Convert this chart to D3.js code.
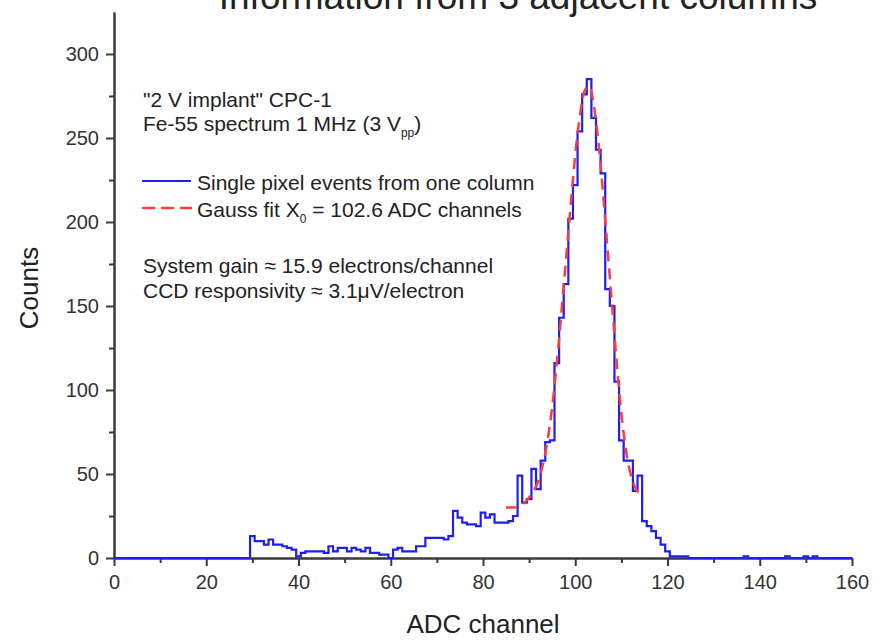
<!DOCTYPE html>
<html>
<head>
<meta charset="utf-8">
<script src="https://cdn.jsdelivr.net/npm/d3@7"></script>
<style>
body { margin: 0; background: #fff; }
svg { display: block; font-family: "Liberation Sans", Arial, sans-serif; }
</style>
</head>
<body>
<div id="chart"></div>
<script>
// histogram counts, one per ADC channel, starting at channel 0
const counts = [
    0,0,0,0,0,0,0,0,0,0, 0,0,0,0,0,0,0,0,0,0, 0,0,0,0,0,0,0,0,0,0,
    13,10,10,8,11,8,8,7,6,5,
    1,3,4,4,4,4,3,7,4,6,
    6,4,6,5,4,6,3,3,2,2,
    0,5,6,4,4,4,7,7,12,12,
    12,12,11,13,28,24,21,20,20,19,
    27,24,26,21,21,21,22,25,49,33,
    35,53,41,58,69,70,116,143,163,202,
    222,254,276,285,262,243,229,160,150,105,
    70,58,58,40,49,22,19,16,12,8,
    4,1,1,1,1,0,0,0,0,0,
    0,0,0,0,0,0,0,1,0,0,
    0,0,0,0,0,0,1,0,0,0,
    1,0,1,0,0,0,0,0,0,0,0
];
// gauss fit
const fitChannels = [85,86,87,88,89,90,91,92,93,94,95,96,97,98,99,100,101,102,103,104,105,106,107,108,109,110,111,112,113,114];
const fitCounts = [30,30,30,31,33,36,40,46,56,70,90,116,146,178,210,240,263,278,281,270,248,218,184,150,116,86,64,50,42,38];

const xTicks = [0, 20, 40, 60, 80, 100, 120, 140, 160];
const xMinor = [10, 30, 50, 70, 90, 110, 130, 150];
const yTicks = [0, 50, 100, 150, 200, 250, 300];
const yMinor = [25, 75, 125, 175, 225, 275];

const width = 878, height = 640;
const blue = '#1e1ef5', red = '#ff3c3c', ink = '#222';

const svg = d3.select('#chart').append('svg')
    .attr('width', width)
    .attr('height', height);

const x = d3.scaleLinear().domain([0, 160]).range([114, 852]);
const y = d3.scaleLinear().domain([0, 325]).range([558, 12]);

// title, cut off at the top like in the original figure
svg.append('text')
    .attr('x', 518).attr('y', 9)
    .attr('text-anchor', 'middle')
    .attr('font-size', 37)
    .attr('fill', ink)
    .text('Information from 3 adjacent columns');

function styleAxis(g) {
    g.select('.domain').attr('stroke', '#3a3a3a').attr('stroke-width', 2);
    g.selectAll('.tick line').attr('stroke', '#3a3a3a').attr('stroke-width', 2);
    g.selectAll('.tick text').attr('fill', '#333').attr('font-size', 20)
        .attr('font-family', '"Liberation Sans", Arial, sans-serif');
}

// minor ticks first, then the labelled axes on top
svg.append('g')
    .attr('transform', 'translate(0,' + y(0) + ')')
    .call(d3.axisBottom(x).tickValues(xMinor).tickSize(5).tickSizeOuter(0).tickFormat(''))
    .call(styleAxis);
svg.append('g')
    .attr('transform', 'translate(' + x(0) + ',0)')
    .call(d3.axisLeft(y).tickValues(yMinor).tickSize(5).tickSizeOuter(0).tickFormat(''))
    .call(styleAxis);

svg.append('g')
    .attr('transform', 'translate(0,' + y(0) + ')')
    .call(d3.axisBottom(x).tickValues(xTicks).tickSize(8).tickSizeOuter(0).tickPadding(9))
    .call(styleAxis);
svg.append('g')
    .attr('transform', 'translate(' + x(0) + ',0)')
    .call(d3.axisLeft(y).tickValues(yTicks).tickSize(8).tickSizeOuter(0).tickPadding(7))
    .call(styleAxis);

// axis titles
svg.append('text')
    .attr('x', 483).attr('y', 633)
    .attr('text-anchor', 'middle')
    .attr('font-size', 26)
    .attr('fill', ink)
    .text('ADC channel');
svg.append('text')
    .attr('transform', 'translate(38,' + 288 + ') rotate(-90)')
    .attr('text-anchor', 'middle')
    .attr('font-size', 26)
    .attr('fill', ink)
    .text('Counts');

// histogram as a centred step line
const stepLine = d3.line()
    .x((d, i) => x(i))
    .y(d => y(d))
    .curve(d3.curveStep);
svg.append('path')
    .datum(counts)
    .attr('d', stepLine)
    .attr('fill', 'none')
    .attr('stroke', blue)
    .attr('stroke-width', 2.2);

// gauss fit
const fitLine = d3.line()
    .x(d => x(d[0]))
    .y(d => y(d[1]))
    .curve(d3.curveMonotoneX);
svg.append('path')
    .datum(fitChannels.map((c, i) => [c, fitCounts[i]]))
    .attr('d', fitLine)
    .attr('fill', 'none')
    .attr('stroke', red)
    .attr('stroke-width', 2.5)
    .attr('stroke-dasharray', '11,7');

// annotation block
const notes = svg.append('g').attr('font-size', 21).attr('fill', ink);
notes.append('text').attr('x', 143).attr('y', 107).text('"2 V implant" CPC-1');
const l2 = notes.append('text').attr('x', 143).attr('y', 131);
l2.append('tspan').text('Fe-55 spectrum 1 MHz (3 V');
l2.append('tspan').attr('font-size', 12).attr('dy', 6).text('pp');
l2.append('tspan').attr('dy', -6).text(')');

// legend
notes.append('line')
    .attr('x1', 142).attr('x2', 191).attr('y1', 181).attr('y2', 181)
    .attr('stroke', blue).attr('stroke-width', 2);
notes.append('text').attr('x', 197).attr('y', 190).text('Single pixel events from one column');
notes.append('line')
    .attr('x1', 142).attr('x2', 192).attr('y1', 208).attr('y2', 208)
    .attr('stroke', red).attr('stroke-width', 2.5)
    .attr('stroke-dasharray', '13,6');
const l4 = notes.append('text').attr('x', 197).attr('y', 217);
l4.append('tspan').text('Gauss fit X');
l4.append('tspan').attr('font-size', 12).attr('dy', 6).text('0');
l4.append('tspan').attr('dy', -6).text(' = 102.6 ADC channels');

notes.append('text').attr('x', 143).attr('y', 273).text('System gain \u2248 15.9 electrons/channel');
notes.append('text').attr('x', 143).attr('y', 298).text('CCD responsivity \u2248 3.1\u03bcV/electron');
</script>
</body>
</html>
